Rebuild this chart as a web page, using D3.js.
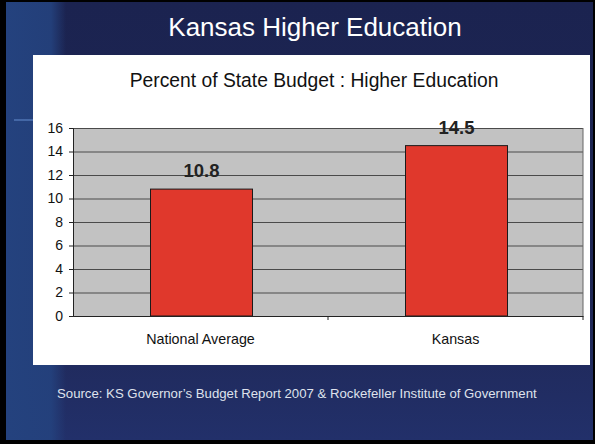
<!DOCTYPE html>
<html>
<head>
<meta charset="utf-8">
<script src="https://cdn.jsdelivr.net/npm/d3@7"></script>
<style>
  body { margin: 0; padding: 0; background: #000; }
  svg { display: block; font-family: Arial, "Liberation Sans", sans-serif; }
</style>
</head>
<body>
<svg width="595" height="444"></svg>
<script>
var categories = ['National Average', 'Kansas'];
var values = [10.8, 14.5];
var yTicks = [0, 2, 4, 6, 8, 10, 12, 14, 16];

var svg = d3.select('svg');
var svgWidth = +svg.attr('width');
var svgHeight = +svg.attr('height');

// slide background
var defs = svg.append('defs');
var grad = defs.append('linearGradient')
    .attr('id', 'bg')
    .attr('x1', 0).attr('y1', 0).attr('x2', 0).attr('y2', 1);
grad.append('stop').attr('offset', '0%').attr('stop-color', '#1b2350');
grad.append('stop').attr('offset', '70%').attr('stop-color', '#1f2756');
grad.append('stop').attr('offset', '100%').attr('stop-color', '#22306a');

var side = defs.append('linearGradient')
    .attr('id', 'side')
    .attr('x1', 0).attr('y1', 0).attr('x2', 1).attr('y2', 0);
side.append('stop').attr('offset', '0%').attr('stop-color', '#24427e').attr('stop-opacity', 1);
side.append('stop').attr('offset', '75%').attr('stop-color', '#24427e').attr('stop-opacity', 0.9);
side.append('stop').attr('offset', '100%').attr('stop-color', '#24427e').attr('stop-opacity', 0);

svg.append('rect')
    .attr('width', svgWidth).attr('height', svgHeight)
    .attr('fill', '#000');
svg.append('rect')
    .attr('x', 6).attr('y', 2)
    .attr('width', svgWidth - 8).attr('height', 438)
    .attr('fill', 'url(#bg)');
svg.append('rect')
    .attr('x', 6).attr('y', 2)
    .attr('width', 60).attr('height', 438)
    .attr('fill', 'url(#side)');

// small light stroke at the left edge of the slide
svg.append('line')
    .attr('x1', 14).attr('x2', 33)
    .attr('y1', 120).attr('y2', 120)
    .attr('stroke', '#4f74b4')
    .attr('stroke-width', 1.5);

svg.append('text')
    .attr('x', 315).attr('y', 36)
    .attr('text-anchor', 'middle')
    .attr('fill', '#ffffff')
    .style('font-size', '26px')
    .text('Kansas Higher Education');

// white chart panel
svg.append('rect')
    .attr('x', 33).attr('y', 55)
    .attr('width', 557).attr('height', 310)
    .attr('fill', '#ffffff');

svg.append('text')
    .attr('x', 314).attr('y', 87)
    .attr('text-anchor', 'middle')
    .attr('fill', '#111')
    .style('font-size', '19.3px')
    .text('Percent of State Budget : Higher Education');

var plot = {l: 73, t: 128, r: 583, b: 316};

var xScale = d3.scaleBand()
    .domain(categories)
    .range([plot.l, plot.r])
    .paddingInner(0)
    .paddingOuter(0);

var yScale = d3.scaleLinear()
    .domain([0, 16])
    .range([plot.b, plot.t]);

var g = svg.append('g');

g.append('rect')
    .attr('x', plot.l).attr('y', plot.t)
    .attr('width', plot.r - plot.l).attr('height', plot.b - plot.t)
    .attr('fill', '#c2c2c2');

var yGrid = d3.axisLeft(yScale)
    .tickValues(yTicks)
    .tickSize(-(plot.r - plot.l))
    .tickFormat('');
g.append('g')
    .attr('class', 'y grid')
    .attr('transform', 'translate(' + plot.l + ',0)')
    .call(yGrid)
    .call(function(s) {
        s.select('.domain').remove();
        s.selectAll('line').attr('stroke', '#4a4a4a').attr('stroke-width', 1.2);
    });

// plot right border
g.append('line')
    .attr('x1', plot.r).attr('x2', plot.r)
    .attr('y1', plot.t).attr('y2', plot.b)
    .attr('stroke', '#666');

var bw = xScale.bandwidth() * 0.4;
g.selectAll('.bar')
    .data(values)
    .enter()
    .append('rect')
    .attr('class', 'bar')
    .attr('x', function(d, i) { return xScale(categories[i]) + xScale.bandwidth() / 2 - bw / 2 + 1; })
    .attr('y', function(d) { return yScale(d); })
    .attr('width', bw)
    .attr('height', function(d) { return yScale(0) - yScale(d); })
    .attr('fill', '#e0382c')
    .attr('stroke', '#1a1a1a')
    .attr('stroke-width', 1);

g.selectAll('.value-label')
    .data(values)
    .enter()
    .append('text')
    .attr('class', 'value-label')
    .attr('x', function(d, i) { return xScale(categories[i]) + xScale.bandwidth() / 2 + 1; })
    .attr('y', function(d) { return yScale(d) - 12; })
    .attr('text-anchor', 'middle')
    .attr('fill', '#222')
    .style('font-size', '18.5px')
    .style('font-weight', 'bold')
    .text(function(d) { return d.toFixed(1); });

var yAxis = d3.axisLeft(yScale)
    .tickValues(yTicks)
    .tickSize(4)
    .tickPadding(6);
g.append('g')
    .attr('class', 'y axis')
    .attr('transform', 'translate(' + plot.l + ',0)')
    .call(yAxis)
    .call(function(s) {
        s.select('.domain').attr('stroke', '#222');
        s.selectAll('line').attr('stroke', '#222');
        s.selectAll('text').attr('fill', '#111').style('font-size', '14px');
    });

var xAxis = d3.axisBottom(xScale)
    .tickSize(0)
    .tickPadding(18);
g.append('g')
    .attr('class', 'x axis')
    .attr('transform', 'translate(0,' + plot.b + ')')
    .call(xAxis)
    .call(function(s) {
        s.select('.domain').attr('stroke', '#222');
        s.selectAll('text').attr('fill', '#111').style('font-size', '14.3px');
    });

// category boundary tick marks
g.selectAll('.cat-tick')
    .data([categories[1], null])
    .enter()
    .append('line')
    .attr('x1', function(d) { return d ? xScale(d) : plot.r; })
    .attr('x2', function(d) { return d ? xScale(d) : plot.r; })
    .attr('y1', plot.b).attr('y2', plot.b + 4)
    .attr('stroke', '#222');

svg.append('text')
    .attr('x', 57).attr('y', 398)
    .attr('fill', '#dfe2ec')
    .style('font-size', '13.2px')
    .text('Source: KS Governor\u2019s Budget Report 2007 & Rockefeller Institute of Government');
</script>
</body>
</html>
